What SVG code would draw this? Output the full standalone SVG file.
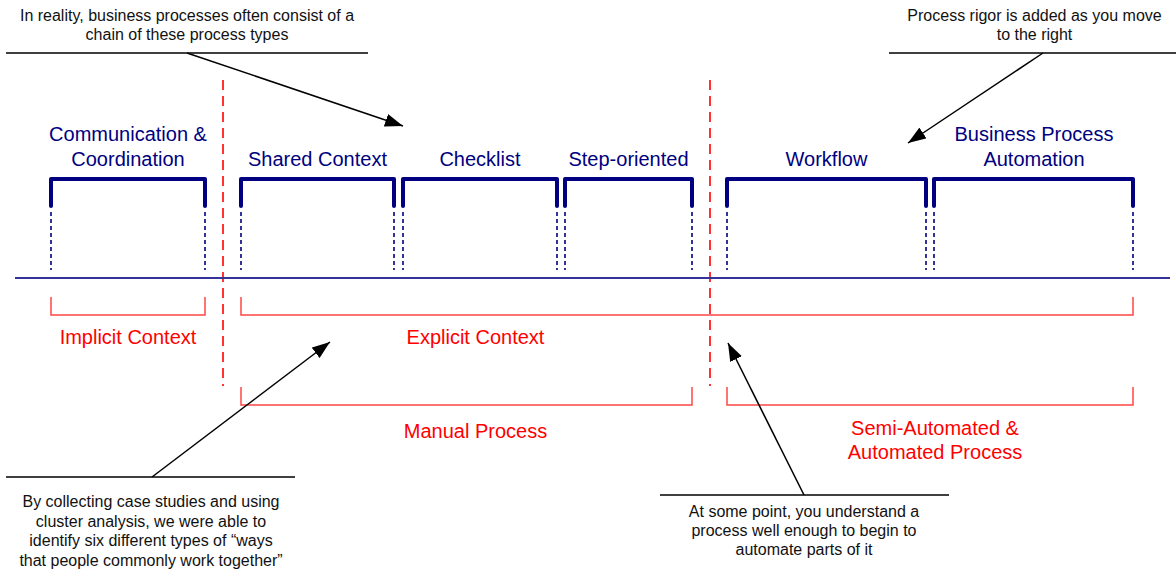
<svg xmlns="http://www.w3.org/2000/svg" width="1176" height="569" viewBox="0 0 1176 569">
<defs>
<style>
text{font-family:"Liberation Sans",Arial,sans-serif}
.lbl{font-size:20px;fill:#000080;text-anchor:middle}
.red{font-size:20px;fill:#FF0000;text-anchor:middle}
.note{font-size:16px;fill:#111;text-anchor:middle}
.br{fill:none;stroke:#000080;stroke-width:4;stroke-linecap:round;stroke-linejoin:round}
.tick{stroke:#000080;stroke-width:1.6;stroke-dasharray:4 3}
.rb{fill:none;stroke:#FF4545;stroke-width:1.5}
.rd{stroke:#FF3333;stroke-width:2;stroke-dasharray:10 6}
.ul{stroke:#000;stroke-width:1.5}
.ar{stroke:#000;stroke-width:1.5;marker-end:url(#ah)}
</style>
<marker id="ah" markerUnits="userSpaceOnUse" markerWidth="19" markerHeight="13" refX="18" refY="6.5" orient="auto">
<path d="M0,0 L18,6.5 L0,13 z" fill="#000"/>
</marker>
</defs>
<rect width="1176" height="569" fill="#fff"/>

<g id="dividers">
<line class="rd" x1="223" y1="80" x2="223" y2="386"/>
<line class="rd" x1="710" y1="80" x2="710" y2="386"/>
</g>

<g id="axis">
<line x1="15" y1="278" x2="1170" y2="278" stroke="#333399" stroke-width="1.8"/>
</g>

<g id="node-communication">
<text class="lbl" x="128" y="141">Communication &amp;</text>
<text class="lbl" x="128" y="166">Coordination</text>
<path class="br" d="M51,206 V179 H205 V206"/>
<line class="tick" x1="51" y1="212" x2="51" y2="270"/>
<line class="tick" x1="205" y1="212" x2="205" y2="270"/>
</g>
<g id="node-shared">
<text class="lbl" x="317.5" y="166">Shared Context</text>
<path class="br" d="M241,206 V179 H394 V206"/>
<line class="tick" x1="241" y1="212" x2="241" y2="270"/>
<line class="tick" x1="394" y1="212" x2="394" y2="270"/>
</g>
<g id="node-checklist">
<text class="lbl" x="480" y="166">Checklist</text>
<path class="br" d="M403,206 V179 H557 V206"/>
<line class="tick" x1="403" y1="212" x2="403" y2="270"/>
<line class="tick" x1="557" y1="212" x2="557" y2="270"/>
</g>
<g id="node-step">
<text class="lbl" x="628.5" y="166">Step-oriented</text>
<path class="br" d="M565,206 V179 H692 V206"/>
<line class="tick" x1="565" y1="212" x2="565" y2="270"/>
<line class="tick" x1="692" y1="212" x2="692" y2="270"/>
</g>
<g id="node-workflow">
<text class="lbl" x="826.5" y="166">Workflow</text>
<path class="br" d="M727,206 V179 H926 V206"/>
<line class="tick" x1="727" y1="212" x2="727" y2="270"/>
<line class="tick" x1="926" y1="212" x2="926" y2="270"/>
</g>
<g id="node-bpa">
<text class="lbl" x="1034" y="141">Business Process</text>
<text class="lbl" x="1034" y="166">Automation</text>
<path class="br" d="M934,206 V179 H1133 V206"/>
<line class="tick" x1="934" y1="212" x2="934" y2="270"/>
<line class="tick" x1="1133" y1="212" x2="1133" y2="270"/>
</g>

<g id="node-implicit">
<path class="rb" d="M51,297 V315 H205 V297"/>
<text class="red" x="128" y="344">Implicit Context</text>
</g>
<g id="node-explicit">
<path class="rb" d="M241,297 V315 H1133 V297"/>
<text class="red" x="475.5" y="344">Explicit Context</text>
</g>
<g id="node-manual">
<path class="rb" d="M241,387 V405 H692 V387"/>
<text class="red" x="475.5" y="438">Manual Process</text>
</g>
<g id="node-semi">
<path class="rb" d="M727,387 V405 H1133 V387"/>
<text class="red" x="935" y="435">Semi-Automated &amp;</text>
<text class="red" x="935" y="459">Automated Process</text>
</g>

<g id="note-chain">
<text class="note" x="187" y="21">In reality, business processes often consist of a</text>
<text class="note" x="187" y="40">chain of these process types</text>
<line class="ul" x1="6" y1="53" x2="368" y2="53"/>
</g>
<g id="note-rigor">
<text class="note" x="1034.5" y="21">Process rigor is added as you move</text>
<text class="note" x="1034.5" y="40">to the right</text>
<line class="ul" x1="889" y1="53" x2="1176" y2="53"/>
</g>
<g id="note-cluster">
<line class="ul" x1="6" y1="477" x2="295" y2="477"/>
<text class="note" x="151" y="507">By collecting case studies and using</text>
<text class="note" x="151" y="526.5">cluster analysis, we were able to</text>
<text class="note" x="151" y="546">identify six different types of “ways</text>
<text class="note" x="151" y="565.5">that people commonly work together”</text>
</g>
<g id="note-automate">
<line class="ul" x1="660" y1="495" x2="949" y2="495"/>
<text class="note" x="804" y="517">At some point, you understand a</text>
<text class="note" x="804" y="536">process well enough to begin to</text>
<text class="note" x="804" y="555">automate parts of it</text>
</g>

<g id="connectors">
<line class="ar" x1="187" y1="53" x2="403" y2="126"/>
<line class="ar" x1="1043" y1="53" x2="908" y2="143"/>
<line class="ar" x1="152" y1="477" x2="330" y2="342"/>
<line class="ar" x1="804" y1="495" x2="728" y2="343"/>
</g>
</svg>
